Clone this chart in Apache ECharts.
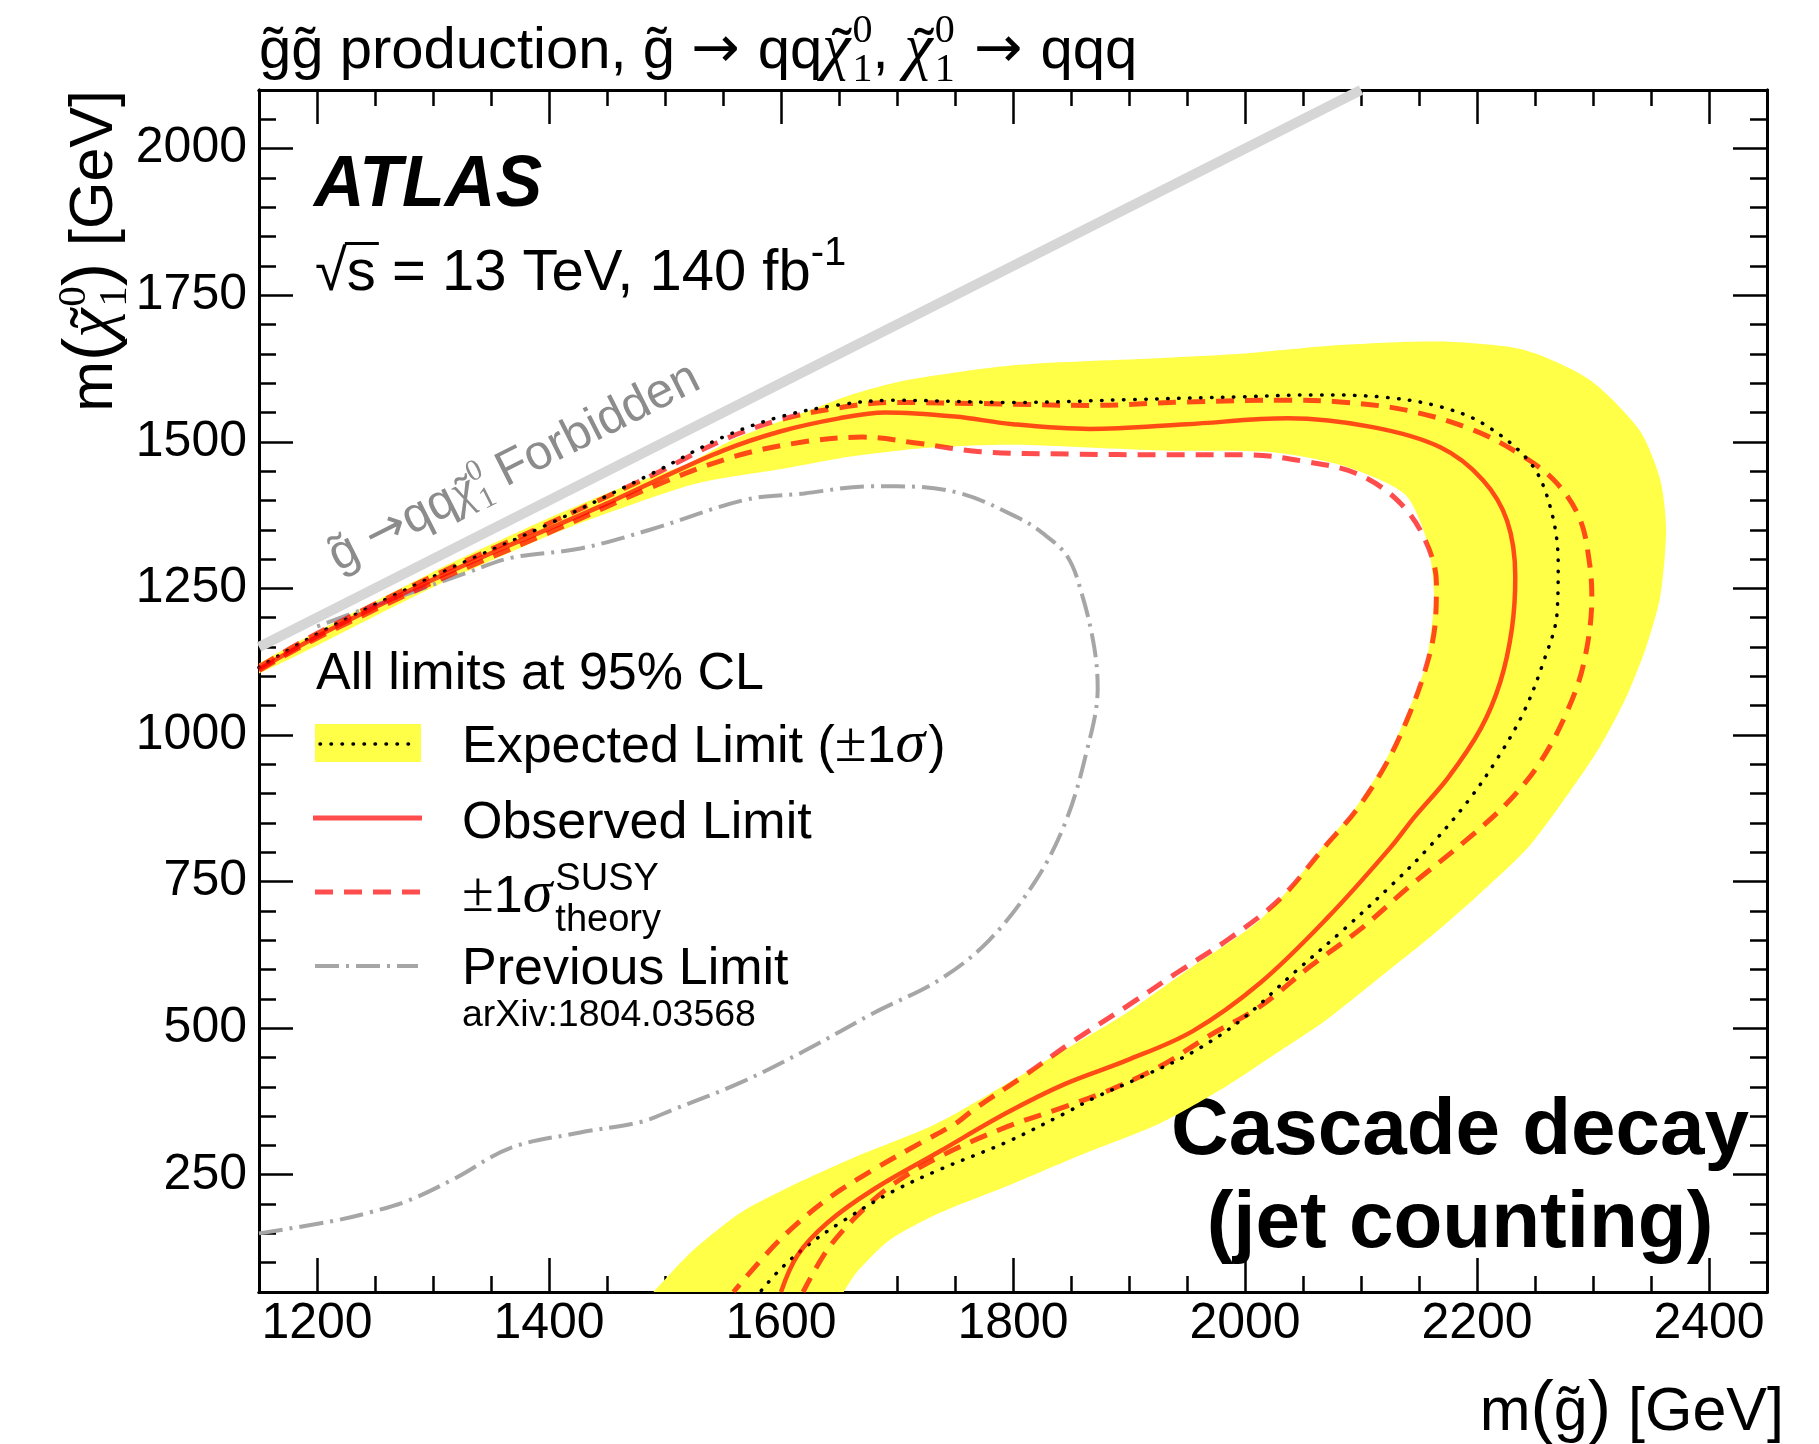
<!DOCTYPE html>
<html>
<head>
<meta charset="utf-8">
<script src="https://cdn.jsdelivr.net/npm/echarts@6/dist/echarts.min.js"></script>
<style>
html, body { margin: 0; padding: 0; background: #fff; }
#chart { width: 1819px; height: 1444px; }
</style>
</head>
<body>
<div id="chart"></div>
<script>
// ---- axis tick labels ----
const xTickLabels = [1200, 1400, 1600, 1800, 2000, 2200, 2400];
const yTickLabels = [250, 500, 750, 1000, 1250, 1500, 1750, 2000];

// ---- kinematic boundary m(chi) = m(gluino) ----
const kinematicLimit = [[1150, 1150], [2100, 2100]];

// ---- exclusion contours, [m(gluino), m(chi)] in GeV ----
const observedLimit = [
  [1150,1112],[1200,1168],[1250,1218],[1300,1265],[1350,1310],[1400,1352],[1450,1395],[1490,1432],
  [1550,1485],[1600,1518],[1650,1540],[1690,1550],[1750,1543],[1800,1530],[1866,1522],[1950,1530],
  [2037,1540],[2110,1525],[2168,1491],[2205,1435],[2226,1365],[2233,1270],[2230,1180],[2220,1090],
  [2203,1010],[2175,927],[2146,860],[2125,807],[2071,688],[2013,577],[1955,495],[1898,445],
  [1845,405],[1795,356],[1737,290],[1679,224],[1640,168],[1614,112],[1600,50]
];
const expectedLimit = [
  [1150,1115],[1200,1172],[1300,1270],[1400,1360],[1490,1447],[1550,1508],[1600,1543],[1650,1563],
  [1696,1571],[1800,1567],[1900,1572],[2000,1577],[2060,1580],[2120,1576],[2168,1560],[2206,1530],
  [2246,1464],[2263,1390],[2270,1293],[2269,1208],[2257,1123],[2240,1038],[2217,958],[2191,884],
  [2157,805],[2128,747],[2085,668],[2042,594],[1998,516],[1955,459],[1912,418],[1869,380],
  [1845,355],[1795,306],[1737,259],[1694,219],[1651,168],[1622,128],[1599,88],[1582,50]
];
const theoryUp = [
  [1150,1116],[1200,1173],[1300,1271],[1400,1361],[1490,1444],[1550,1503],[1600,1538],[1650,1558],
  [1696,1567],[1780,1565],[1866,1562],[1950,1568],[2037,1571],[2082,1568],[2139,1554],[2197,1520],
  [2240,1475],[2269,1429],[2289,1367],[2297,1293],[2299,1236],[2292,1122],[2277,1037],[2254,952],
  [2226,884],[2191,821],[2142,742],[2099,668],[2056,605],[2013,537],[1970,488],[1927,435],
  [1884,395],[1845,366],[1795,332],[1737,281],[1694,230],[1665,179],[1640,122],[1619,50]
];
const theoryDown = [
  [1150,1110],[1200,1165],[1300,1260],[1400,1345],[1490,1424],[1560,1475],[1620,1500],[1670,1508],
  [1720,1497],[1772,1483],[1850,1479],[1930,1478],[2000,1478],[2053,1466],[2096,1446],[2131,1401],
  [2154,1338],[2165,1259],[2164,1191],[2157,1122],[2142,1037],[2122,952],[2096,872],[2069,810],
  [2030,720],[1986,652],[1941,594],[1898,537],[1852,478],[1809,418],[1766,361],[1751,338],
  [1720,304],[1680,259],[1639,207],[1599,139],[1559,50]
];
// expected +-1 sigma band: outer edge, then inner edge
const bandOuter = [
  [1150,1122],[1300,1278],[1400,1370],[1460,1420],[1519,1462],[1560,1505],[1613,1545],[1660,1580],
  [1708,1605],[1803,1631],[1930,1643],[1996,1650],[2082,1665],[2168,1671],[2240,1657],[2297,1606],
  [2340,1520],[2358,1435],[2363,1350],[2358,1236],[2346,1151],[2329,1066],[2306,980],[2277,895],
  [2244,808],[2200,725],[2157,651],[2114,583],[2070,514],[2027,457],[1984,401],[1927,338],
  [1860,285],[1794,230],[1737,185],[1694,139],[1665,83],[1654,50],[1645,20]
];
const bandInner = [
  [1150,1105],[1300,1252],[1400,1340],[1450,1378],[1527,1429],[1604,1455],[1660,1475],[1727,1490],
  [1800,1495],[1930,1485],[2024,1482],[2088,1457],[2138,1410],[2157,1330],[2163,1236],[2156,1122],
  [2140,1037],[2120,952],[2094,872],[2067,810],[2040,742],[2013,685],[1990,651],[1955,605],
  [1898,526],[1840,458],[1751,355],[1723,327],[1665,281],[1608,230],[1565,185],[1522,117],
  [1490,50],[1475,20]
];
const previousLimit = [
  [1150,150],[1211,170],[1246,186],[1280,207],[1320,245],[1367,296],[1427,322],[1479,340],
  [1507,361],[1565,407],[1622,463],[1680,526],[1737,583],[1780,651],[1820,753],[1845,850],
  [1862,960],[1873,1080],[1870,1150],[1860,1236],[1847,1304],[1825,1345],[1803,1372],[1753,1413],
  [1700,1424],[1676,1424],[1620,1412],[1569,1401],[1487,1350],[1427,1318],[1367,1302],[1327,1275],
  [1277,1240],[1227,1205],[1200,1185]
];

// ---- styling ----
const SANS = "'Liberation Sans', Arial, Helvetica, sans-serif";
const SERIF = "'Liberation Serif', 'DejaVu Serif', serif";
const DEJAVU = "'DejaVu Sans', sans-serif";
const RED = 'rgba(255,0,0,0.7)';
const YELLOW = '#ffff47';
const GREY_TXT = '#8c8c8c';
const MID = 0.28; // distance from alphabetic baseline to the text middle, in em

const X_MIN = 1150, X_MAX = 2450, Y_MIN = 50, Y_MAX = 2100;

function range(a, b, step) { const r = []; for (let v = a; v <= b; v += step) r.push(v); return r; }
const xMinor = range(X_MIN, X_MAX, 50).filter(v => !xTickLabels.includes(v));
const yMinor = range(Y_MIN, Y_MAX, 50).filter(v => !yTickLabels.includes(v));

function xAxisDef(pos, ticks, len, withLabels) {
  return {
    type: 'value', min: X_MIN, max: X_MAX, position: pos, gridIndex: 0,
    axisLine: { show: true, onZero: false, lineStyle: { color: '#000', width: 3 } },
    axisTick: { show: true, inside: true, length: len, customValues: ticks, lineStyle: { color: '#000', width: 2.5 } },
    axisLabel: withLabels ? {
      show: true, customValues: xTickLabels, margin: 7, color: '#000', fontSize: 50, fontFamily: SANS,
      formatter: v => String(v)
    } : { show: false },
    splitLine: { show: false }
  };
}
function yAxisDef(pos, ticks, len, withLabels) {
  return {
    type: 'value', min: Y_MIN, max: Y_MAX, position: pos, gridIndex: 0,
    axisLine: { show: true, onZero: false, lineStyle: { color: '#000', width: 3 } },
    axisTick: { show: true, inside: true, length: len, customValues: ticks, lineStyle: { color: '#000', width: 2.5 } },
    axisLabel: withLabels ? {
      show: true, customValues: yTickLabels, margin: 12, color: '#000', fontSize: 50, fontFamily: SANS,
      formatter: v => String(v)
    } : { show: false },
    splitLine: { show: false }
  };
}

// ---- text runs with sub/superscripts ----
const mctx = document.createElement('canvas').getContext('2d');
function fontOf(p) {
  return (p.italic ? 'italic ' : '') + (p.bold ? 'bold ' : '') + p.size + 'px ' + (p.family || SANS);
}
function textEl(p, x, color) {
  return {
    type: 'text', x: x + (p.dx || 0), y: (p.dy || 0) - MID * p.size,
    style: { text: p.t, font: fontOf(p), fill: p.color || color, align: 'left', verticalAlign: 'middle' }
  };
}
function textRun(pieces, color) {
  let x = 0; const kids = [];
  pieces.forEach(p => {
    if (p.stack) {
      let w = 0;
      p.stack.forEach(q => {
        mctx.font = fontOf(q);
        if (!q.noAdvance) w = Math.max(w, mctx.measureText(q.t).width + (q.dx || 0));
        kids.push(textEl(q, x, color));
      });
      x += w + (p.after || 0);
    } else {
      mctx.font = fontOf(p);
      const w = mctx.measureText(p.t).width;
      kids.push(textEl(p, x, color));
      x += w + (p.after || 0);
    }
  });
  return { kids, width: x };
}
// group placed with its text baseline at (x, y); align 'left' | 'right' | 'center'
function runGroup(pieces, x, y, opts) {
  opts = opts || {};
  const r = textRun(pieces, opts.color || '#000');
  let shift = 0;
  if (opts.align === 'right') shift = -r.width;
  if (opts.align === 'center') shift = -r.width / 2;
  return {
    type: 'group', x: x, y: y, rotation: opts.rotation || 0, z: 100,
    children: [{ type: 'group', x: shift, y: 0, scaleY: opts.scaleY || 1, children: r.kids }]
  };
}
// neutralino symbol: tilde chi with stacked 0 / 1
function chiTilde(size, k) {
  const s = size * (k || 1);
  return [
    { stack: [
      { t: '\u03C7', size: Math.round(s), family: SERIF, italic: true },
      { t: '\u02DC', size: Math.round(s * 0.9), family: SANS, dx: 0.16 * s, dy: 0.02 * s, noAdvance: true }
    ], after: 0.03 * s },
    { stack: [
      { t: '0', size: Math.round(s * 0.62), family: SERIF, dy: -0.40 * s },
      { t: '1', size: Math.round(s * 0.62), family: SERIF, dy: 0.22 * s }
    ] }
  ];
}
const gt = 'g\u0303';

// title
const TS = 58;
const titlePieces = [
  { t: gt + gt + ' production, ' + gt + ' ', size: TS },
  { t: '\u2192', size: TS, family: DEJAVU, after: 2 },
  { t: ' qq', size: TS },
  ...chiTilde(TS, 1.1),
  { t: ', ', size: TS },
  ...chiTilde(TS, 1.1),
  { t: ' ', size: TS, after: 3 },
  { t: '\u2192', size: TS, family: DEJAVU, after: 2 },
  { t: ' qqq', size: TS }
];

// axis titles
const AS = 61;
const yTitlePieces = [
  { t: 'm', size: AS }, { t: '(', size: Math.round(AS * 1.15) },
  ...chiTilde(AS, 1.08),
  { t: ')', size: Math.round(AS * 1.15) }, { t: ' [GeV]', size: AS }
];
const yTitleWidth = textRun(yTitlePieces, '#000').width;
const xTitlePieces = [
  { t: 'm', size: AS }, { t: '(', size: Math.round(AS * 1.15) },
  { t: gt, size: AS }, { t: ')', size: Math.round(AS * 1.15) }, { t: ' [GeV]', size: AS }
];

// kinematic boundary label
const KS = 49;
const kinPieces = [
  { t: gt + ' ', size: KS },
  { t: '\u2192', size: KS, family: DEJAVU },
  { t: 'qq', size: KS },
  ...chiTilde(KS),
  { t: ' Forbidden', size: KS }
];

// sqrt(s) line
const LS = 58;
mctx.font = fontOf({ size: LS });
const sqrtW = mctx.measureText('\u221A').width;
const sW = mctx.measureText('s').width;

const LEG = 52;
const graphics = [
  runGroup(titlePieces, 259, 68),
  runGroup([{ t: 'ATLAS', size: 70, bold: true, italic: true }], 314, 206, { scaleY: 1.04 }),
  runGroup([
    { t: '\u221As = 13 TeV, 140 fb', size: LS },
    { t: '-1', size: 40, dy: -0.42 * LS }
  ], 315, 290),
  { type: 'line', z: 100, shape: { x1: 315 + sqrtW - 2, y1: 290 - 0.80 * LS, x2: 315 + sqrtW + sW + 3, y2: 290 - 0.80 * LS },
    style: { stroke: '#000', lineWidth: 3 } },
  runGroup(kinPieces, 338, 572, { color: GREY_TXT, rotation: 26.8 * Math.PI / 180 }),

  // legend
  runGroup([{ t: 'All limits at 95% CL', size: LEG }], 316, 689),
  { type: 'rect', z: 100, shape: { x: 315, y: 724, width: 106, height: 38 }, style: { fill: YELLOW } },
  { type: 'line', z: 101, shape: { x1: 320, y1: 744, x2: 418, y2: 744 },
    style: { stroke: '#000', lineWidth: 3.5, lineDash: [0.5, 10.5], lineCap: 'round' } },
  runGroup([
    { t: 'Expected Limit (', size: LEG },
    { t: '\u00B1', size: 58, family: SERIF },
    { t: '1', size: LEG },
    { t: '\u03C3', size: 60, family: SERIF, italic: true, after: 3 },
    { t: ')', size: LEG }
  ], 462, 762),
  { type: 'line', z: 100, shape: { x1: 313, y1: 818, x2: 422, y2: 818 }, style: { stroke: RED, lineWidth: 5 } },
  runGroup([{ t: 'Observed Limit', size: LEG }], 462, 838),
  { type: 'line', z: 100, shape: { x1: 315, y1: 892, x2: 420, y2: 892 },
    style: { stroke: RED, lineWidth: 5, lineDash: [18, 11] } },
  runGroup([
    { t: '\u00B1', size: 58, family: SERIF },
    { t: '1', size: LEG },
    { t: '\u03C3', size: 60, family: SERIF, italic: true },
    { stack: [
      { t: 'SUSY', size: 38, dy: -22, dx: 3 },
      { t: 'theory', size: 38, dy: 19, dx: 3 }
    ] }
  ], 462, 912),
  { type: 'line', z: 100, shape: { x1: 315, y1: 966, x2: 418, y2: 966 },
    style: { stroke: '#a6a6a6', lineWidth: 4, lineDash: [24, 7, 3, 7] } },
  runGroup([{ t: 'Previous Limit', size: LEG }], 462, 984),
  runGroup([{ t: 'arXiv:1804.03568', size: 37.5 }], 462, 1026),

  // analysis tag
  runGroup([{ t: 'Cascade decay', size: 80, bold: true }], 1460, 1154, { align: 'center' }),
  runGroup([{ t: '(jet counting)', size: 80, bold: true }], 1460, 1247, { align: 'center' }),

  // axis titles
  runGroup(xTitlePieces, 1784, 1430, { align: 'right' }),
  runGroup(yTitlePieces, 112, 90 + yTitleWidth, { rotation: Math.PI / 2 })
];

function lineSeries(name, data, lineStyle, z) {
  return {
    type: 'line', name: name, data: data, xAxisIndex: 0, yAxisIndex: 0,
    showSymbol: false, symbol: 'none', smooth: 0.35, clip: true, z: z, silent: true,
    lineStyle: lineStyle
  };
}

const chart = echarts.init(document.getElementById('chart'), null, { renderer: 'canvas' });
chart.setOption({
  animation: false,
  backgroundColor: '#fff',
  grid: { left: 259, right: 52, top: 90, bottom: 152, containLabel: false },
  xAxis: [
    xAxisDef('bottom', xTickLabels, 34, true),
    xAxisDef('bottom', xMinor, 16, false),
    xAxisDef('top', xTickLabels, 34, false),
    xAxisDef('top', xMinor, 16, false)
  ],
  yAxis: [
    yAxisDef('left', yTickLabels, 34, true),
    yAxisDef('left', yMinor, 17, false),
    yAxisDef('right', yTickLabels, 34, false),
    yAxisDef('right', yMinor, 17, false)
  ],
  series: [
    lineSeries('Kinematic limit', kinematicLimit, { color: '#d6d6d6', width: 10 }, 1),
    {
      type: 'custom', name: 'Expected band', xAxisIndex: 0, yAxisIndex: 0, z: 2, silent: true,
      data: [0],
      renderItem: function (params, api) {
        const pts = bandOuter.concat(bandInner.slice().reverse()).map(p => api.coord(p));
        const cs = params.coordSys;
        return {
          type: 'polygon',
          shape: { points: pts, smooth: 0.25 },
          style: { fill: YELLOW },
          clipPath: { type: 'rect', shape: { x: cs.x, y: cs.y, width: cs.width, height: cs.height } }
        };
      }
    },
    lineSeries('Previous Limit', previousLimit, { color: '#a6a6a6', width: 4, type: [24, 7, 3, 7] }, 3),
    lineSeries('Theory -1 sigma', theoryDown, { color: RED, width: 5, type: [18, 11] }, 4),
    lineSeries('Theory +1 sigma', theoryUp, { color: RED, width: 5, type: [18, 11] }, 4),
    lineSeries('Expected Limit', expectedLimit, { color: '#000', width: 3.5, type: [0.5, 10.5], cap: 'round' }, 5),
    lineSeries('Observed Limit', observedLimit, { color: RED, width: 4.5 }, 6)
  ],
  graphic: graphics
});
</script>
</body>
</html>
